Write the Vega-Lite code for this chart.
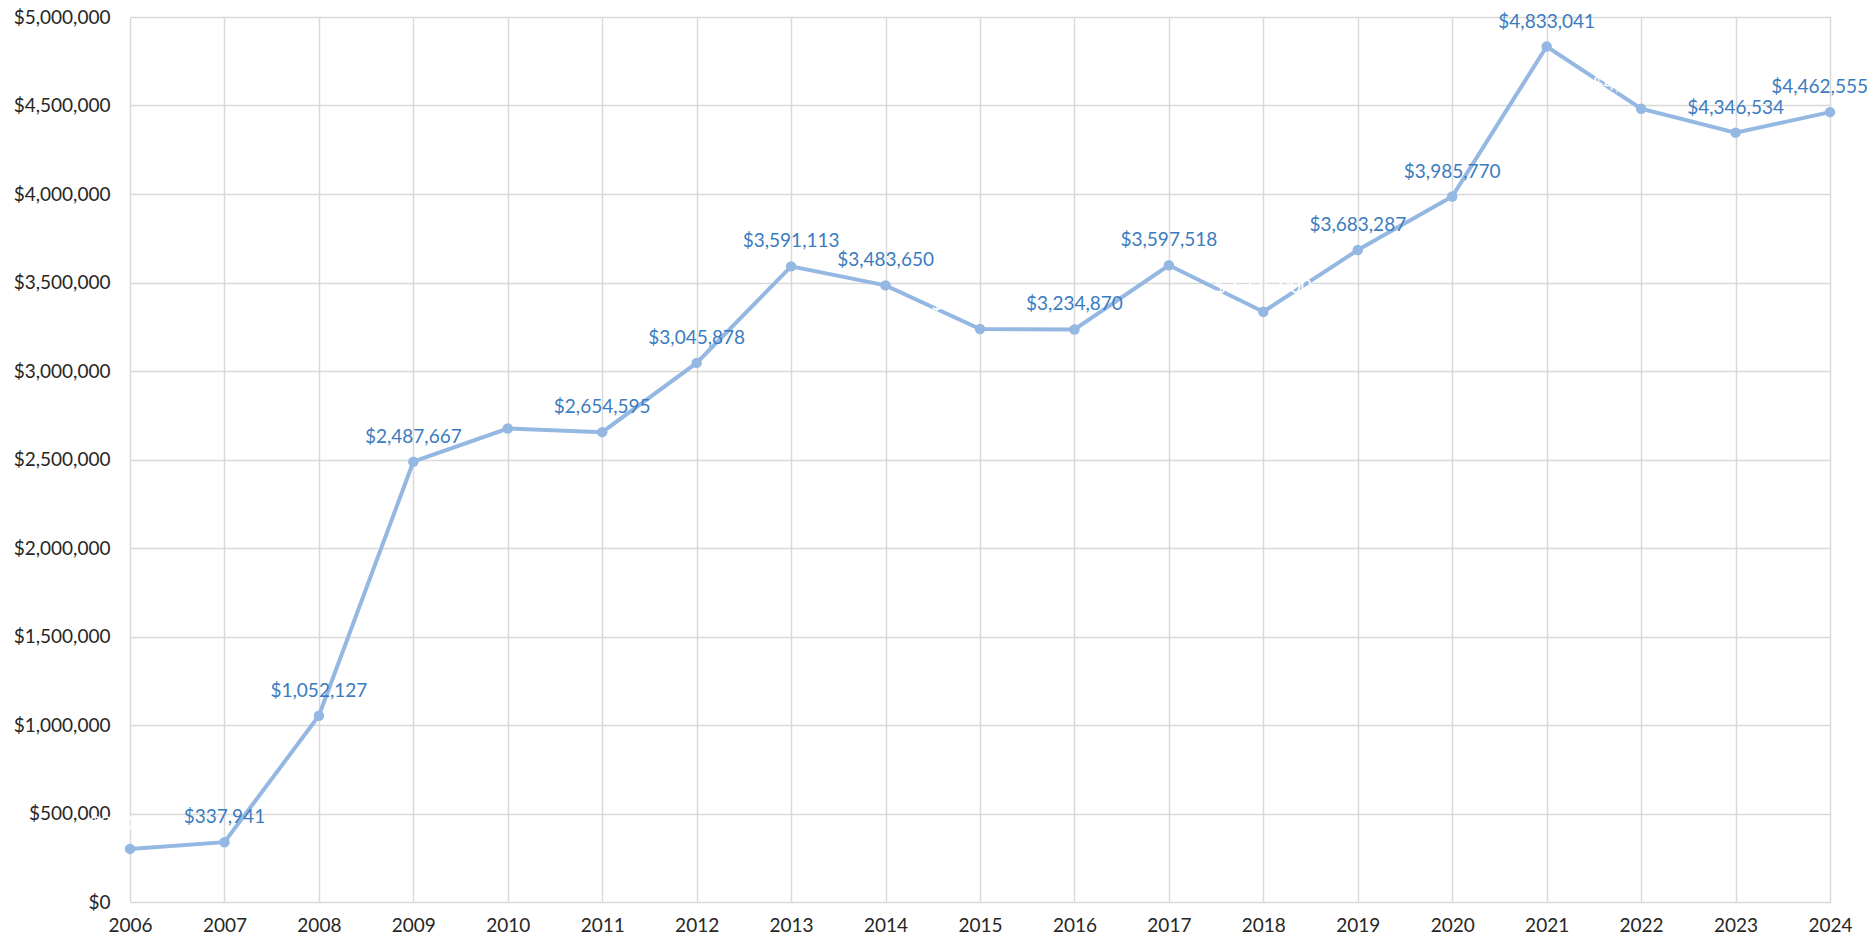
{
  "$schema": "https://vega.github.io/schema/vega-lite/v6.json",
  "width": 1700,
  "height": 885,
  "autosize": "none",
  "padding": {"left": 130, "top": 17, "right": 45, "bottom": 43},
  "background": "white",
  "config": {"view": {"stroke": null}, "font": "Lato"},
  "data": {"values": [
    {"year": "2006", "value": 300000},
    {"year": "2007", "value": 337941},
    {"year": "2008", "value": 1052127},
    {"year": "2009", "value": 2487667},
    {"year": "2010", "value": 2675000},
    {"year": "2011", "value": 2654595},
    {"year": "2012", "value": 3045878},
    {"year": "2013", "value": 3591113},
    {"year": "2014", "value": 3483650},
    {"year": "2015", "value": 3237000},
    {"year": "2016", "value": 3234870},
    {"year": "2017", "value": 3597518},
    {"year": "2018", "value": 3335000},
    {"year": "2019", "value": 3683287},
    {"year": "2020", "value": 3985770},
    {"year": "2021", "value": 4833041},
    {"year": "2022", "value": 4482000},
    {"year": "2023", "value": 4346534},
    {"year": "2024", "value": 4462555}
  ]},
  "encoding": {
    "x": {
      "field": "year", "type": "ordinal",
      "scale": {"type": "point", "padding": 0},
      "axis": {"title": null, "labelAngle": 0, "grid": true, "gridColor": "#D9D9D9", "gridWidth": 1.5, "domain": false, "ticks": false, "labelFontSize": 19, "labelColor": "#262626", "labelPadding": 14}
    },
    "y": {
      "field": "value", "type": "quantitative",
      "scale": {"domain": [0, 5000000], "nice": false},
      "axis": {"title": null, "values": [0,500000,1000000,1500000,2000000,2500000,3000000,3500000,4000000,4500000,5000000], "format": "$,.0f", "grid": true, "gridColor": "#D9D9D9", "gridWidth": 1.5, "domain": false, "ticks": false, "labelFontSize": 19, "labelColor": "#262626", "labelPadding": 20}
    }
  },
  "layer": [
    {"mark": {"type": "line", "color": "#95B8E3", "strokeWidth": 4}},
    {"mark": {"type": "point", "filled": true, "color": "#95B8E3", "size": 110, "opacity": 1}},
    {
      "transform": [{"filter": "datum.year != '2024'"}],
      "mark": {"type": "text", "dy": -25, "fontSize": 19, "baseline": "middle"},
      "encoding": {
        "text": {"field": "value", "type": "quantitative", "format": "$,.0f"},
        "color": {"condition": {"test": "indexof(['2006','2010','2015','2018','2022'], datum.year) >= 0", "value": "white"}, "value": "#3B7CC0"}
      }
    },
    {
      "transform": [{"filter": "datum.year == '2024'"}],
      "mark": {"type": "text", "dy": -25, "dx": 38, "align": "right", "fontSize": 19, "baseline": "middle", "color": "#3B7CC0"},
      "encoding": {
        "text": {"field": "value", "type": "quantitative", "format": "$,.0f"}
      }
    }
  ]
}
